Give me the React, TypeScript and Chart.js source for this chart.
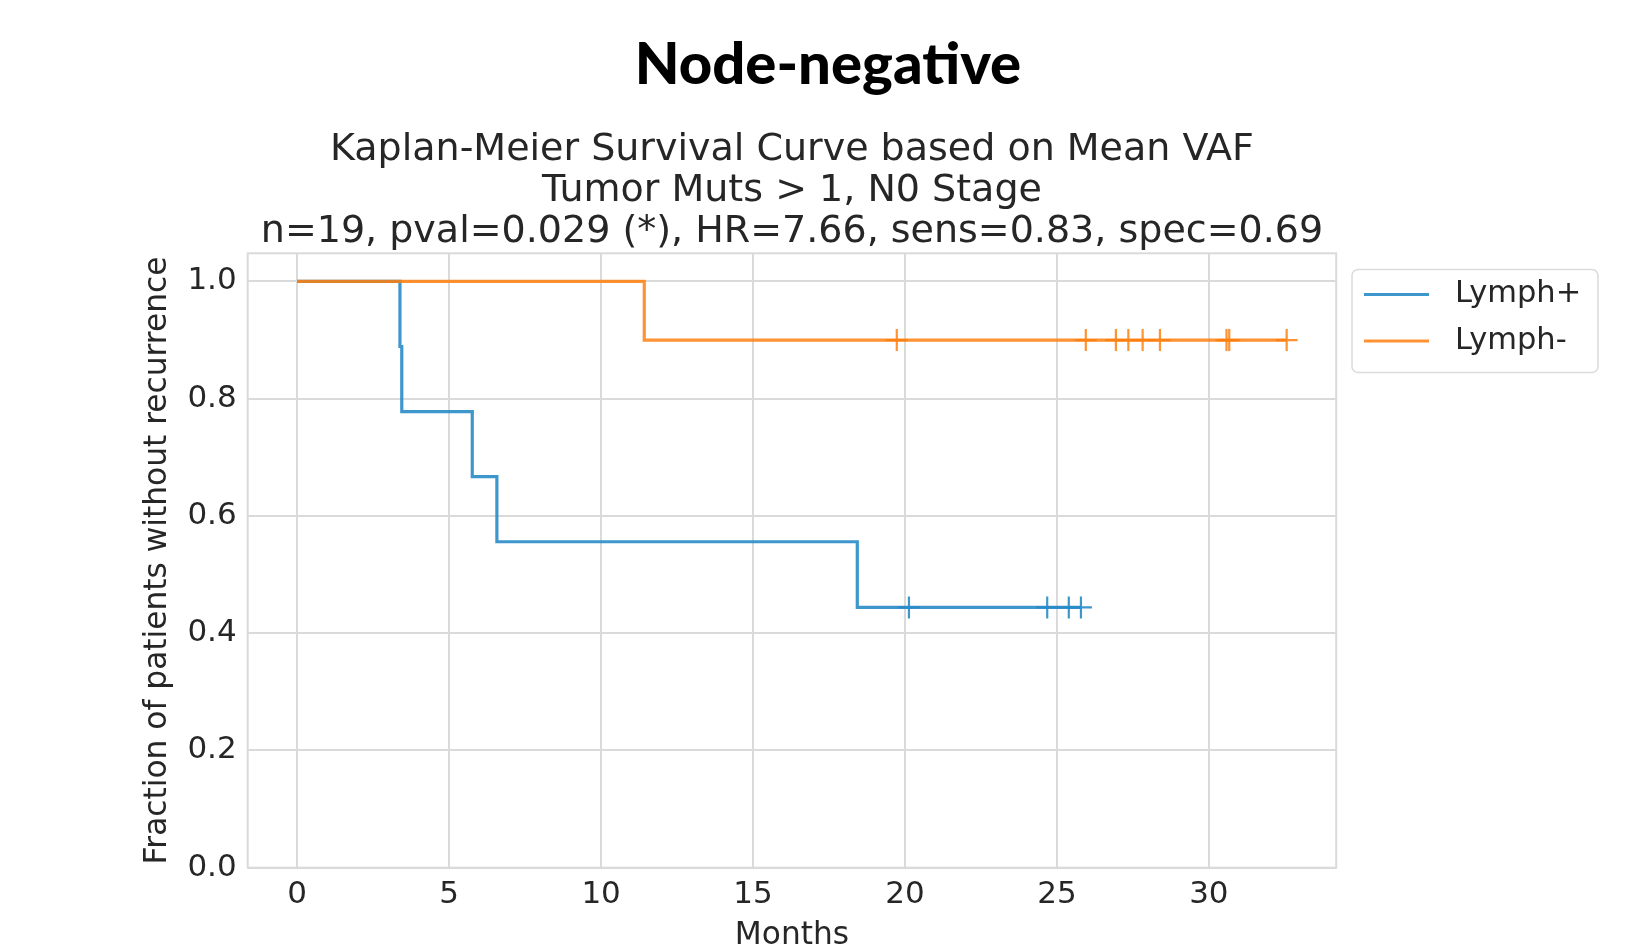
import React, { useEffect, useRef } from "react";
import { Chart, registerables } from "chart.js";

Chart.register(...registerables);

// ---- text ----
const headingText = "Node-negative";
const titleLines = [
  "Kaplan-Meier Survival Curve based on Mean VAF",
  "Tumor Muts > 1, N0 Stage",
  "n=19, pval=0.029 (*), HR=7.66, sens=0.83, spec=0.69",
];
const xAxisLabel = "Months";
const yAxisLabel = "Fraction of patients without recurrence";
const seriesNames = ["Lymph+", "Lymph-"];

// ---- ticks ----
const xTickValues = [0, 5, 10, 15, 20, 25, 30];
const yTickValues = [0, 0.2, 0.4, 0.6, 0.8, 1.0];

// ---- Lymph+ (step curve + censor marks) ----
const lymphPosTimes = [0, 3.38, 3.44, 5.76, 6.57, 18.43, 25.79];
const lymphPosSurv = [1.0, 0.889, 0.778, 0.667, 0.556, 0.444, 0.444];
const lymphPosCensorTimes = [20.13, 24.68, 25.39, 25.79];
const lymphPosCensorSurv = [0.444, 0.444, 0.444, 0.444];

// ---- Lymph- (step curve + censor marks) ----
const lymphNegTimes = [0, 11.42, 32.56];
const lymphNegSurv = [1.0, 0.9, 0.9];
const lymphNegCensorTimes = [19.73, 25.95, 26.94, 27.35, 27.82, 28.39, 30.58, 30.67, 32.56];
const lymphNegCensorSurv = [0.9, 0.9, 0.9, 0.9, 0.9, 0.9, 0.9, 0.9, 0.9];

const BLUE = "rgba(40,140,200,0.9)";
const ORANGE = "rgba(255,127,14,0.85)";
const TEXT = "#262626";
const GRID = "#dadada";
const FONT = "'DejaVu Sans', sans-serif";

const toPoints = (xs: number[], ys: number[]) => xs.map((x, i) => ({ x, y: ys[i] }));

const framePlugin = {
  id: "frame",
  beforeDatasetsDraw(chart: any) {
    const { ctx, chartArea } = chart;
    ctx.save();
    ctx.strokeStyle = GRID;
    ctx.lineWidth = 2;
    ctx.strokeRect(chartArea.left, chartArea.top, chartArea.right - chartArea.left, chartArea.bottom - chartArea.top);
    ctx.restore();
  },
};

const legendPlugin = {
  id: "kmLegend",
  afterDraw(chart: any) {
    const { ctx } = chart;
    const x0 = 1352, y0 = 269.5, w = 246, h = 103, r = 6;
    ctx.save();
    ctx.beginPath();
    ctx.moveTo(x0 + r, y0);
    ctx.arcTo(x0 + w, y0, x0 + w, y0 + h, r);
    ctx.arcTo(x0 + w, y0 + h, x0, y0 + h, r);
    ctx.arcTo(x0, y0 + h, x0, y0, r);
    ctx.arcTo(x0, y0, x0 + w, y0, r);
    ctx.closePath();
    ctx.fillStyle = "rgba(255,255,255,0.8)";
    ctx.fill();
    ctx.strokeStyle = "#dcdcdc";
    ctx.lineWidth = 1.6;
    ctx.stroke();
    const colors = [BLUE, ORANGE];
    const rows = [294.5, 341];
    seriesNames.forEach((name, i) => {
      ctx.strokeStyle = colors[i];
      ctx.lineWidth = 3;
      ctx.beginPath();
      ctx.moveTo(1364, rows[i]);
      ctx.lineTo(1429, rows[i]);
      ctx.stroke();
      ctx.fillStyle = TEXT;
      ctx.font = `30.5px ${FONT}`;
      ctx.textBaseline = "middle";
      ctx.textAlign = "left";
      ctx.fillText(name, 1455, rows[i]);
    });
    ctx.restore();
  },
};

export default function App() {
  const canvasRef = useRef<HTMLCanvasElement | null>(null);

  useEffect(() => {
    if (!canvasRef.current) return;
    const chart = new Chart(canvasRef.current, {
      type: "line",
      data: {
        datasets: [
          {
            label: seriesNames[1] + " censored",
            data: toPoints(lymphNegCensorTimes, lymphNegCensorSurv),
            showLine: false,
            pointStyle: "cross",
            pointRadius: 11,
            pointBorderWidth: 2.2,
            pointBorderColor: ORANGE,
            pointBackgroundColor: ORANGE,
            borderColor: ORANGE,
          },
          {
            label: seriesNames[1],
            data: toPoints(lymphNegTimes, lymphNegSurv),
            stepped: "before",
            borderColor: ORANGE,
            borderWidth: 3.2,
            pointRadius: 0,
            fill: false,
          },
          {
            label: seriesNames[0] + " censored",
            data: toPoints(lymphPosCensorTimes, lymphPosCensorSurv),
            showLine: false,
            pointStyle: "cross",
            pointRadius: 11,
            pointBorderWidth: 2.2,
            pointBorderColor: BLUE,
            pointBackgroundColor: BLUE,
            borderColor: BLUE,
          },
          {
            label: seriesNames[0],
            data: toPoints(lymphPosTimes, lymphPosSurv),
            stepped: "before",
            borderColor: BLUE,
            borderWidth: 3.2,
            pointRadius: 0,
            fill: false,
          },
        ],
      },
      options: {
        animation: false,
        responsive: false,
        events: [],
        layout: { padding: { left: 100, right: 299.8, top: 0, bottom: 0 } },
        plugins: {
          legend: { display: false },
          tooltip: { enabled: false },
          title: {
            display: true,
            text: titleLines,
            fullSize: false,
            color: TEXT,
            font: { family: FONT, size: 38, weight: "normal", lineHeight: 41.2 / 38 },
            padding: { top: 129.3, bottom: 0.4 },
          },
        },
        scales: {
          x: {
            type: "linear",
            min: -1.63,
            max: 34.19,
            afterBuildTicks: (s: any) => {
              s.ticks = xTickValues.map((v) => ({ value: v }));
            },
            afterFit: (s: any) => {
              s.height = 77.3;
            },
            grid: { color: GRID, lineWidth: 2, drawTicks: false },
            border: { display: false },
            ticks: {
              color: TEXT,
              font: { family: FONT, size: 31 },
              padding: 8.2,
              maxRotation: 0,
              callback: (v: any) => String(v),
            },
            title: {
              display: true,
              text: xAxisLabel,
              color: TEXT,
              font: { family: FONT, size: 31.25, lineHeight: 0.5 },
              padding: 1.8,
            },
          },
          y: {
            type: "linear",
            min: 0,
            max: 1.048,
            afterBuildTicks: (s: any) => {
              s.ticks = yTickValues.map((v) => ({ value: v }));
            },
            afterFit: (s: any) => {
              s.width = 147.7;
            },
            grid: { color: GRID, lineWidth: 2, drawTicks: false },
            border: { display: false },
            ticks: {
              color: TEXT,
              font: { family: FONT, size: 31 },
              padding: 11,
              callback: (v: any) => Number(v).toFixed(1),
            },
            title: {
              display: true,
              text: yAxisLabel,
              color: TEXT,
              font: { family: FONT, size: 31.25, lineHeight: 1.2 },
              padding: 38.7,
            },
          },
        },
      },
      plugins: [framePlugin, legendPlugin],
    } as any);
    return () => chart.destroy();
  }, []);

  return (
    <div style={{ position: "fixed", left: 0, top: 0, width: 1636, height: 945, background: "#ffffff" }}>
      <canvas ref={canvasRef} width={1636} height={945} style={{ position: "absolute", left: 0, top: 0, width: 1636, height: 945 }} />
      <div
        style={{
          position: "absolute",
          left: 0,
          top: 32.5,
          width: 1656,
          textAlign: "center",
          fontFamily: "Lato, 'Open Sans', sans-serif",
          fontWeight: 900,
          fontSize: 58,
          lineHeight: "58px",
          color: "#000000",
        }}
      >
        {headingText}
      </div>
    </div>
  );
}
